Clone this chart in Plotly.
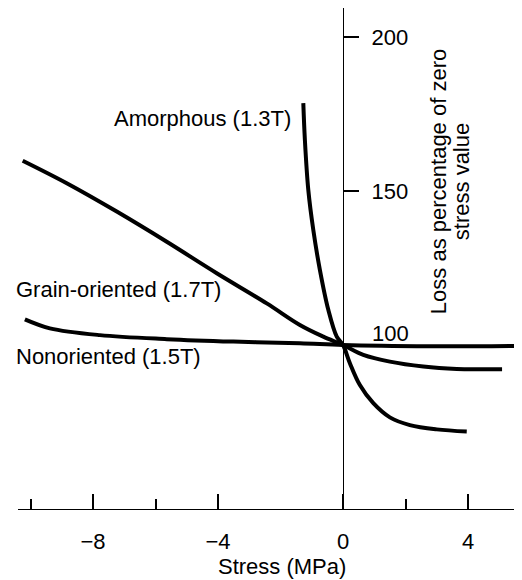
import plotly.graph_objects as go

# Data
amorphous_x = [-1.27, -1.22, -1.11, -0.95, -0.74, -0.47, -0.20, 0.0, 0.22, 0.54, 0.97, 1.50, 2.14, 3.00, 3.96]
amorphous_y = [178.5, 166.6, 150.3, 137.3, 124.4, 111.4, 102.7, 100.0, 94.1, 87.0, 81.1, 76.5, 74.0, 72.6, 71.9]

grain_x = [-10.25, -8.84, -7.24, -5.64, -4.04, -2.44, -1.38, -0.63, 0.0, 0.65, 1.50, 2.57, 3.64, 4.38, 5.09]
grain_y = [159.8, 152.5, 143.3, 133.5, 123.3, 113.5, 106.5, 102.7, 100.0, 96.8, 94.6, 93.0, 92.2, 92.1, 92.1]

nonor_x = [-10.18, -9.38, -7.78, -5.64, -3.51, -1.38, 0.0, 2.78, 5.6]
nonor_y = [108.3, 105.4, 103.2, 101.9, 101.1, 100.6, 100.0, 99.6, 99.7]

x_tickvals = [-8, -4, 0, 4]
x_ticktext = ["\u22128", "\u22124", "0", "4"]
x_minor = [-10, -6, 2]
y_tickvals = [150, 200]

FONT = "Liberation Sans, Arial, sans-serif"

fig = go.Figure()
for xs, ys in [(amorphous_x, amorphous_y), (grain_x, grain_y), (nonor_x, nonor_y)]:
    fig.add_trace(go.Scatter(x=xs, y=ys, mode="lines",
                             line=dict(color="black", width=4, shape="spline", smoothing=1.0),
                             showlegend=False, hoverinfo="skip"))

xmin, xmax = -10.4, 5.728
fig.update_layout(
    width=514, height=572,
    margin=dict(l=10, r=0, t=0, b=71),
    paper_bgcolor="white", plot_bgcolor="white",
    font=dict(family=FONT, size=22, color="black"),
    xaxis=dict(range=[xmin, xmax], showgrid=False, zeroline=False,
               showline=True, linecolor="black", linewidth=1.2,
               ticks="inside", ticklen=15, tickwidth=1.5, tickcolor="black",
               tickvals=x_tickvals, ticktext=x_ticktext,
               ticklabelstandoff=12,
               minor=dict(tickvals=x_minor, ticks="inside", ticklen=10, tickwidth=1.5, tickcolor="black"),
               tickfont=dict(size=22)),
    yaxis=dict(range=[46.75, 209.4], showgrid=False, zeroline=False,
               anchor="free", position=(0 - xmin) / (xmax - xmin), side="right",
               showline=True, linecolor="black", linewidth=1.2,
               ticks="outside", ticklen=15, tickwidth=1.5, tickcolor="black",
               tickvals=y_tickvals, ticklabelstandoff=8,
               tickfont=dict(size=22)),
)

ann = dict(showarrow=False, font=dict(family=FONT, size=22, color="black"))
fig.add_annotation(x=-1.6, y=173.4, text="Amorphous (1.3T)", xanchor="right", yanchor="middle", **ann)
fig.add_annotation(x=0, xref="paper", y=117.9, text="Grain-oriented (1.7T)", xanchor="left",
                   yanchor="middle", xshift=-4, **ann)
fig.add_annotation(x=0, xref="paper", y=96.1, text="Nonoriented (1.5T)", xanchor="left",
                   yanchor="middle", xshift=-4, **ann)
fig.add_annotation(x=0, y=100, text="100", xanchor="left", yanchor="middle", xshift=27, yshift=11, **ann)
fig.add_annotation(x=3.46, y=152.9, text="Loss as percentage of zero", textangle=-90,
                   xanchor="center", yanchor="middle", xshift=-13, **ann)
fig.add_annotation(x=3.46, y=152.9, text="stress value", textangle=-90,
                   xanchor="center", yanchor="middle", xshift=10, **ann)
fig.add_annotation(x=-1.95, xref="x", y=0, yref="paper", text="Stress (MPa)",
                   xanchor="center", yanchor="middle", yshift=-57, **ann)

fig.write_html("out.html")
